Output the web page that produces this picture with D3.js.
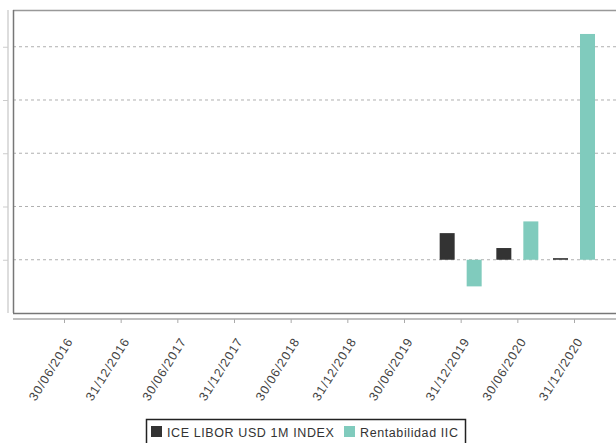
<!DOCTYPE html>
<html><head><meta charset="utf-8">
<script src="https://cdn.jsdelivr.net/npm/d3@7"></script>
<style>body{margin:0;background:#fff;} svg{display:block;} text{font-family:"Liberation Sans",Arial,sans-serif;}</style>
</head><body>
<svg id="c" width="616" height="443"></svg>
<script>
const categories = ["30/06/2016","31/12/2016","30/06/2017","31/12/2017","30/06/2018","31/12/2018","30/06/2019","31/12/2019","30/06/2020","31/12/2020"];
const seriesNames = ["ICE LIBOR USD 1M INDEX","Rentabilidad IIC"];
const liborValues = [null,null,null,null,null,null,null,2.5,1.1,0.15];
const iicValues   = [null,null,null,null,null,null,null,-2.5,3.6,21.2];
const yTicks = [-5,0,5,10,15,20];
const colors = ["#333333","#80cbbd"];

const svg = d3.select("#c");
const L = 13, R = 625, T = 10, B = 313;
const x = d3.scalePoint().domain(categories).range([L, R]).padding(0.9);
const y = d3.scaleLinear().domain([-5, 23.45]).range([B, T]);

// gridlines
svg.append("g").selectAll("line").data(yTicks.filter(d => d > -5)).join("line")
  .attr("x1", L).attr("x2", 616).attr("y1", d => y(d)).attr("y2", d => y(d))
  .attr("stroke", "#b0b0b0").attr("stroke-dasharray", "3,3").attr("stroke-width", 1);

// plot frame
svg.append("line").attr("x1", L).attr("x2", 616).attr("y1", T + 0.5).attr("y2", T + 0.5).attr("stroke", "#999").attr("stroke-width", 1.5);
svg.append("line").attr("x1", L + 0.5).attr("x2", L + 0.5).attr("y1", T).attr("y2", B).attr("stroke", "#777").attr("stroke-width", 1.5);
svg.append("line").attr("x1", L).attr("x2", 616).attr("y1", B + 0.5).attr("y2", B + 0.5).attr("stroke", "#777").attr("stroke-width", 1.5);

// y axis (labels cut off to left)
const yAx = svg.append("g").attr("transform", "translate(8,0)")
  .call(d3.axisLeft(y).tickValues(yTicks.filter(d => d > -5)).tickSize(5).tickFormat(""));
yAx.select(".domain").attr("d", `M0,${T}V${B}`).attr("stroke", "#bbb");
yAx.selectAll(".tick line").attr("stroke", "#ccc");

// x axis
const xAx = svg.append("g").attr("transform", `translate(0,${B + 6})`)
  .call(d3.axisBottom(x).tickSize(4).tickSizeOuter(0));
xAx.select(".domain").attr("d", `M${L},0H616`).attr("stroke", "#aaa").attr("stroke-width", 1.5);
xAx.selectAll(".tick line").attr("stroke", "#aaa");
xAx.selectAll(".tick text")
  .attr("font-family", "Liberation Sans, Arial, sans-serif")
  .attr("font-size", 12.5).attr("letter-spacing", 0.9).attr("fill", "#444")
  .attr("text-anchor", "end").attr("dy", 0).attr("y", 0)
  .attr("transform", "translate(9,22) rotate(-58)");

// bars
const bw = 15, off = 6;
const data = [];
categories.forEach((c, i) => {
  if (liborValues[i] != null) data.push({c, v: liborValues[i], s: 0});
  if (iicValues[i] != null) data.push({c, v: iicValues[i], s: 1});
});
svg.append("g").selectAll("rect").data(data).join("rect")
  .attr("x", d => d.s === 0 ? x(d.c) - off - bw : x(d.c) + off)
  .attr("width", bw)
  .attr("y", d => y(Math.max(0, d.v)))
  .attr("height", d => Math.max(1.5, Math.abs(y(d.v) - y(0))))
  .attr("fill", d => colors[d.s]);

// legend
const lg = svg.append("g");
lg.append("rect").attr("x", 146.5).attr("y", 419.5).attr("width", 319).attr("height", 30)
  .attr("fill", "#fff").attr("stroke", "#222").attr("stroke-width", 1.5);
const items = [{x: 151, tx: 167}, {x: 344, tx: 360}];
items.forEach((it, i) => {
  lg.append("rect").attr("x", it.x).attr("y", 426).attr("width", 11).attr("height", 11).attr("fill", colors[i]);
  lg.append("text").attr("x", it.tx).attr("y", 436.5).attr("font-size", 12.5).attr("letter-spacing", 0.6)
    .attr("font-family", "Liberation Sans, Arial, sans-serif")
    .attr("fill", "#333").text(seriesNames[i]);
});
</script>
</body></html>
